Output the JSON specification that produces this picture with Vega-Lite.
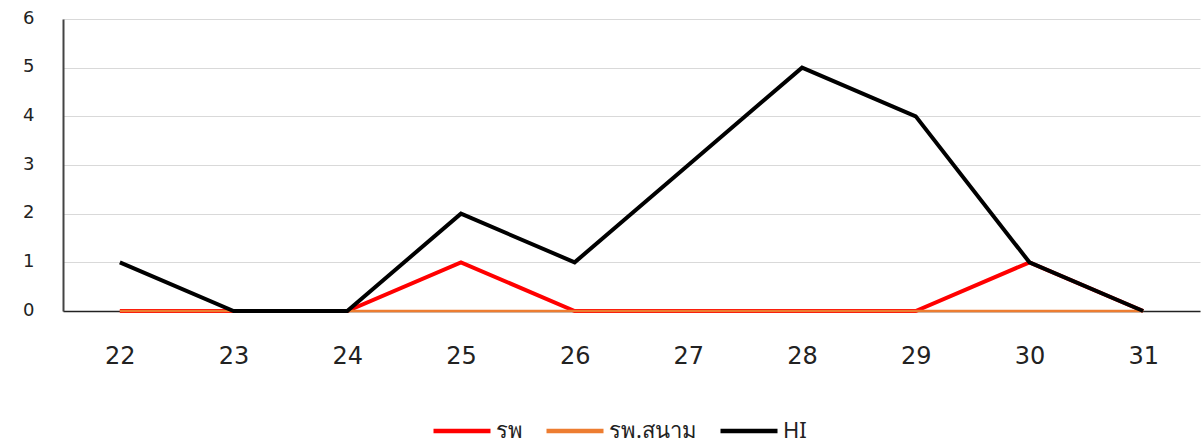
{
  "$schema": "https://vega.github.io/schema/vega-lite/v6.json",
  "width": 1137,
  "height": 292,
  "padding": {"left": 63, "top": 19, "right": 4, "bottom": 134},
  "autosize": {"type": "none"},
  "background": "white",
  "config": {
    "view": {"stroke": null},
    "font": "DejaVu Sans"
  },
  "data": {
    "values": [
      {"day": "22", "series": "รพ", "value": 0},
      {"day": "23", "series": "รพ", "value": 0},
      {"day": "24", "series": "รพ", "value": 0},
      {"day": "25", "series": "รพ", "value": 1},
      {"day": "26", "series": "รพ", "value": 0},
      {"day": "27", "series": "รพ", "value": 0},
      {"day": "28", "series": "รพ", "value": 0},
      {"day": "29", "series": "รพ", "value": 0},
      {"day": "30", "series": "รพ", "value": 1},
      {"day": "31", "series": "รพ", "value": 0},
      {"day": "22", "series": "รพ.สนาม", "value": 0},
      {"day": "23", "series": "รพ.สนาม", "value": 0},
      {"day": "24", "series": "รพ.สนาม", "value": 0},
      {"day": "25", "series": "รพ.สนาม", "value": 0},
      {"day": "26", "series": "รพ.สนาม", "value": 0},
      {"day": "27", "series": "รพ.สนาม", "value": 0},
      {"day": "28", "series": "รพ.สนาม", "value": 0},
      {"day": "29", "series": "รพ.สนาม", "value": 0},
      {"day": "30", "series": "รพ.สนาม", "value": 0},
      {"day": "31", "series": "รพ.สนาม", "value": 0},
      {"day": "22", "series": "HI", "value": 1},
      {"day": "23", "series": "HI", "value": 0},
      {"day": "24", "series": "HI", "value": 0},
      {"day": "25", "series": "HI", "value": 2},
      {"day": "26", "series": "HI", "value": 1},
      {"day": "27", "series": "HI", "value": 3},
      {"day": "28", "series": "HI", "value": 5},
      {"day": "29", "series": "HI", "value": 4},
      {"day": "30", "series": "HI", "value": 1},
      {"day": "31", "series": "HI", "value": 0}
    ]
  },
  "encoding": {
    "x": {
      "field": "day",
      "type": "ordinal",
      "scale": {"type": "point", "padding": 0.5},
      "axis": {
        "title": null,
        "labelAngle": 0,
        "labelFontSize": 24,
        "labelColor": "#222222",
        "labelPadding": 33,
        "ticks": false,
        "domainColor": "#222222",
        "domainWidth": 1.5,
        "grid": false
      }
    },
    "y": {
      "field": "value",
      "type": "quantitative",
      "scale": {"domain": [0, 6]},
      "axis": {
        "title": null,
        "values": [0, 1, 2, 3, 4, 5, 6],
        "labelFontSize": 18,
        "labelColor": "#222222",
        "labelPadding": 29,
        "labelBaseline": "bottom",
        "labelOffset": 8,
        "ticks": false,
        "domainColor": "#444444",
        "domainWidth": 2,
        "gridColor": "#d9d9d9",
        "gridWidth": 1
      }
    },
    "color": {
      "field": "series",
      "type": "nominal",
      "scale": {
        "domain": ["รพ", "รพ.สนาม", "HI"],
        "range": ["#ff0000", "#ed7d31", "#000000"]
      },
      "legend": {
        "title": null,
        "orient": "none",
        "legendX": 368,
        "legendY": 381,
        "direction": "horizontal",
        "symbolType": "stroke",
        "symbolStrokeWidth": 4.5,
        "symbolSize": 3249,
        "labelFontSize": 22,
        "labelColor": "#222222",
        "labelFont": "Noto Sans",
        "labelOffset": 3,
        "columnPadding": 14
      }
    }
  },
  "layer": [
    {
      "transform": [{"filter": "datum.series === 'รพ'"}],
      "mark": {"type": "line", "strokeWidth": 4}
    },
    {
      "transform": [{"filter": "datum.series === 'รพ.สนาม'"}],
      "mark": {"type": "line", "strokeWidth": 2.5}
    },
    {
      "transform": [{"filter": "datum.series === 'HI'"}],
      "mark": {"type": "line", "strokeWidth": 4}
    }
  ]
}
